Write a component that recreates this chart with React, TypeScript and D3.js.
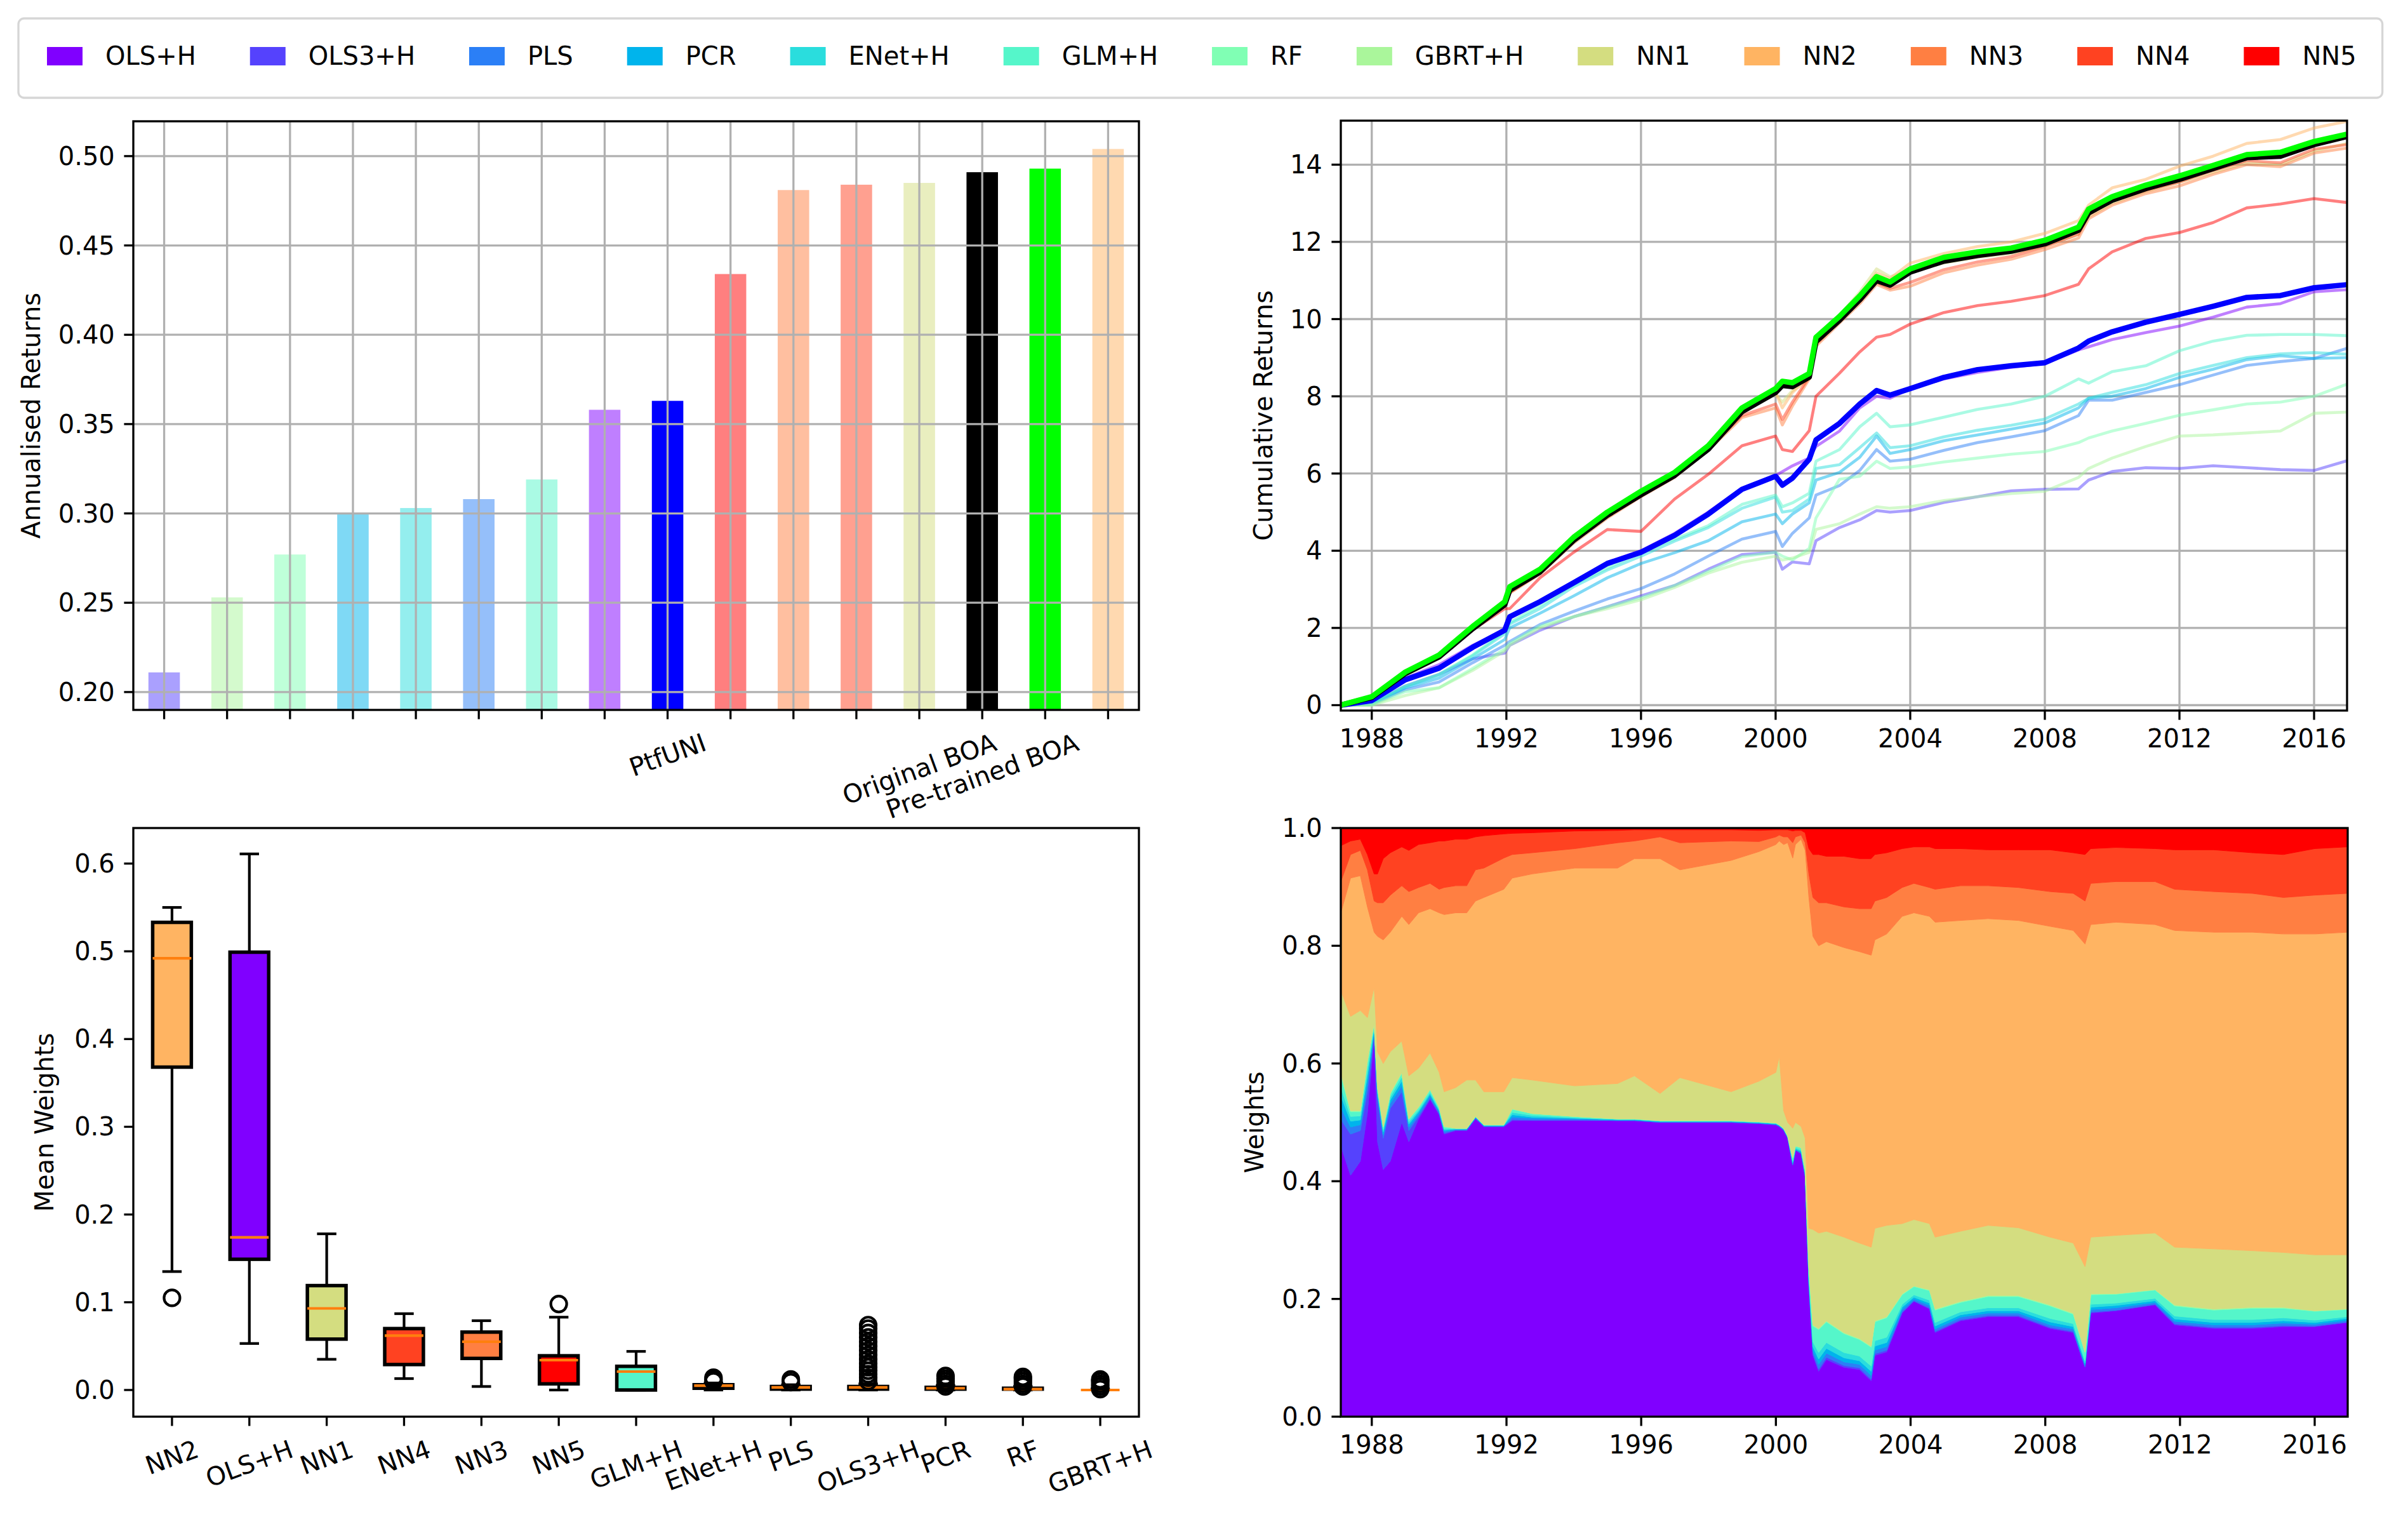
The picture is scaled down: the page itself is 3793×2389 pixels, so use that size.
import * as d3 from 'd3';

// ---------- data ----------
const MODELS = ['OLS+H', 'OLS3+H', 'PLS', 'PCR', 'ENet+H', 'GLM+H', 'RF', 'GBRT+H', 'NN1', 'NN2', 'NN3', 'NN4', 'NN5'];

// annualised returns (top left)
const BAR_NAMES = ['OLS3+H', 'GBRT+H', 'RF', 'PCR', 'ENet+H', 'PLS', 'GLM+H', 'OLS+H', 'PtfUNI', 'NN5', 'NN3', 'NN4', 'NN1', 'Original BOA', 'Pre-trained BOA', 'NN2'];
const BAR_VALUES = [0.211, 0.253, 0.277, 0.300, 0.303, 0.308, 0.319, 0.358, 0.363, 0.434, 0.481, 0.484, 0.485, 0.491, 0.493, 0.504];
const BAR_TICK_LABELS = ['', '', '', '', '', '', '', '', 'PtfUNI', '', '', '', 'Original BOA', 'Pre-trained BOA', '', ''];

// cumulative returns (top right)
const CR_YEARS = [1987.08, 1988, 1989, 1990, 1991, 1991.95, 1992.1, 1993, 1994, 1995, 1996, 1997, 1998, 1999, 2000, 2000.2, 2000.5, 2001, 2001.2, 2001.9, 2002.5, 2003, 2003.4, 2004, 2005, 2006, 2007, 2008, 2009, 2009.3, 2010, 2011, 2012, 2013, 2014, 2015, 2016, 2016.97];
const CR_PRETRAINED = [0, 0.22, 0.86, 1.30, 2.04, 2.68, 3.07, 3.52, 4.35, 5.0, 5.54, 6.03, 6.72, 7.7, 8.2, 8.39, 8.35, 8.59, 9.53, 10.07, 10.6, 11.1, 10.96, 11.3, 11.6, 11.74, 11.84, 12.04, 12.38, 12.85, 13.17, 13.47, 13.71, 13.98, 14.26, 14.32, 14.6, 14.79];
const CR_ORIGINAL = [0, 0.2, 0.82, 1.25, 1.98, 2.6, 2.98, 3.45, 4.27, 4.92, 5.45, 5.95, 6.63, 7.6, 8.1, 8.28, 8.25, 8.5, 9.42, 9.97, 10.5, 11.0, 10.88, 11.22, 11.5, 11.65, 11.76, 11.95, 12.3, 12.75, 13.08, 13.38, 13.62, 13.9, 14.18, 14.22, 14.52, 14.73];
const CR_PTFUNI = [0, 0.12, 0.66, 0.96, 1.5, 1.94, 2.29, 2.68, 3.17, 3.67, 3.96, 4.4, 4.95, 5.59, 5.93, 5.7, 5.88, 6.37, 6.87, 7.3, 7.8, 8.15, 8.03, 8.2, 8.49, 8.69, 8.79, 8.87, 9.25, 9.43, 9.67, 9.92, 10.12, 10.33, 10.56, 10.61, 10.81, 10.89];
const CR_NN2 = [0, 0.22, 0.86, 1.3, 2.02, 2.66, 3.0, 3.5, 4.3, 4.95, 5.5, 6.0, 6.7, 7.65, 8.1, 7.7, 8.1, 8.5, 9.4, 10.05, 10.6, 11.2, 11.05, 11.45, 11.7, 11.88, 12.0, 12.22, 12.55, 12.95, 13.4, 13.62, 13.96, 14.22, 14.55, 14.65, 14.95, 15.12];
const CR_NN1 = [0, 0.21, 0.84, 1.28, 2.0, 2.62, 2.95, 3.45, 4.28, 4.92, 5.48, 5.98, 6.68, 7.6, 8.05, 7.85, 8.15, 8.45, 9.45, 10.1, 10.7, 11.3, 11.1, 11.25, 11.45, 11.6, 11.7, 11.88, 12.2, 12.65, 13.0, 13.3, 13.55, 13.8, 14.05, 14.0, 14.35, 14.55];
const CR_NN3 = [0, 0.2, 0.83, 1.27, 1.98, 2.6, 2.9, 3.4, 4.2, 4.85, 5.4, 5.9, 6.6, 7.45, 7.7, 7.26, 7.75, 8.45, 9.3, 9.9, 10.4, 10.9, 10.75, 10.85, 11.2, 11.4, 11.55, 11.8, 12.1, 12.6, 12.95, 13.25, 13.45, 13.75, 14.0, 13.95, 14.3, 14.43];
const CR_NN4 = [0, 0.21, 0.84, 1.28, 1.99, 2.62, 2.92, 3.42, 4.25, 4.88, 5.42, 5.92, 6.62, 7.5, 7.8, 7.4, 7.85, 8.5, 9.35, 9.95, 10.45, 10.95, 10.8, 10.95, 11.28, 11.48, 11.62, 11.88, 12.2, 12.7, 13.05, 13.33, 13.55, 13.85, 14.1, 14.05, 14.4, 14.52];
const CR_NN5 = [0, 0.22, 0.85, 1.25, 1.95, 2.5, 2.5, 3.3, 3.96, 4.55, 4.5, 5.34, 5.98, 6.72, 6.97, 6.62, 6.57, 7.11, 8.0, 8.6, 9.15, 9.53, 9.6, 9.87, 10.17, 10.35, 10.46, 10.61, 10.9, 11.3, 11.74, 12.09, 12.24, 12.5, 12.88, 12.98, 13.12, 13.02];
const CR_OLS_H = [0, 0.12, 0.7, 1.05, 1.55, 1.95, 2.25, 2.7, 3.2, 3.7, 4.0, 4.45, 5.0, 5.62, 5.95, 6.05, 6.2, 6.4, 6.7, 7.1, 7.7, 8.0, 7.95, 8.2, 8.45, 8.62, 8.75, 8.85, 9.2, 9.28, 9.47, 9.65, 9.82, 10.05, 10.31, 10.4, 10.71, 10.76];
const CR_GLM_H = [0, 0.05, 0.5, 0.8, 1.3, 1.9, 2.14, 2.58, 3.12, 3.55, 3.96, 4.3, 4.65, 5.2, 5.44, 5.14, 5.24, 5.49, 6.32, 6.62, 7.21, 7.56, 7.21, 7.26, 7.46, 7.66, 7.8, 8.0, 8.45, 8.34, 8.64, 8.79, 9.18, 9.43, 9.58, 9.6, 9.6, 9.57];
const CR_ENET_H = [0, 0.04, 0.48, 0.78, 1.28, 1.85, 2.1, 2.5, 3.07, 3.5, 3.86, 4.25, 4.6, 5.1, 5.39, 5.0, 5.04, 5.34, 6.13, 6.23, 6.67, 7.05, 6.67, 6.72, 6.95, 7.12, 7.25, 7.41, 7.8, 7.95, 8.1, 8.3, 8.59, 8.8, 9.0, 9.1, 9.13, 9.09];
const CR_PCR = [0, 0.03, 0.45, 0.7, 1.2, 1.7, 2.0, 2.38, 2.83, 3.3, 3.67, 3.95, 4.26, 4.75, 4.95, 4.7, 4.95, 5.24, 5.83, 6.03, 6.42, 6.97, 6.52, 6.62, 6.85, 7.0, 7.15, 7.31, 7.7, 7.95, 8.0, 8.2, 8.49, 8.7, 8.95, 9.05, 8.98, 9.0];
const CR_PLS = [0, 0.02, 0.4, 0.6, 1.1, 1.55, 1.65, 2.09, 2.43, 2.75, 3.02, 3.4, 3.86, 4.3, 4.5, 4.11, 4.45, 4.85, 5.44, 5.69, 6.08, 6.62, 6.32, 6.37, 6.6, 6.8, 6.95, 7.11, 7.5, 7.9, 7.9, 8.1, 8.3, 8.55, 8.8, 8.9, 8.98, 9.24];
const CR_RF = [0, 0.0, 0.35, 0.45, 0.95, 1.45, 1.6, 2.05, 2.29, 2.55, 2.78, 3.1, 3.47, 3.85, 3.96, 3.86, 3.76, 4.06, 4.85, 5.85, 5.93, 6.32, 6.13, 6.17, 6.3, 6.4, 6.5, 6.57, 6.8, 6.92, 7.1, 7.3, 7.51, 7.65, 7.8, 7.85, 8.0, 8.31];
const CR_GBRT_H = [0, 0.0, 0.25, 0.45, 0.9, 1.4, 1.55, 2.0, 2.29, 2.5, 2.73, 3.05, 3.42, 3.7, 3.86, 3.76, 3.81, 3.96, 4.55, 4.7, 4.95, 5.14, 5.1, 5.14, 5.3, 5.4, 5.48, 5.54, 5.9, 6.13, 6.4, 6.7, 6.97, 7.0, 7.05, 7.1, 7.56, 7.59];
const CR_OLS3_H = [0, 0.05, 0.5, 0.8, 1.2, 1.35, 1.55, 1.94, 2.29, 2.55, 2.83, 3.1, 3.52, 3.9, 3.96, 3.52, 3.71, 3.66, 4.26, 4.6, 4.8, 5.04, 5.0, 5.04, 5.25, 5.4, 5.55, 5.59, 5.6, 5.83, 6.05, 6.15, 6.13, 6.2, 6.15, 6.1, 6.08, 6.33];

// mean weights box plot (bottom left)
const BOX_LABELS = ['NN2', 'OLS+H', 'NN1', 'NN4', 'NN3', 'NN5', 'GLM+H', 'ENet+H', 'PLS', 'OLS3+H', 'PCR', 'RF', 'GBRT+H'];
const BOX_WLO = [0.135, 0.053, 0.035, 0.013, 0.004, 0.0, 0.0, 0.0, 0.0, 0.0, 0.0, 0.0, 0.0];
const BOX_Q1 = [0.368, 0.149, 0.058, 0.029, 0.036, 0.007, 0.0, 0.002, 0.001, 0.001, 0.001, 0.001, 0.0];
const BOX_MED = [0.492, 0.174, 0.093, 0.062, 0.055, 0.034, 0.021, 0.005, 0.003, 0.003, 0.002, 0.001, 0.0];
const BOX_Q3 = [0.533, 0.499, 0.119, 0.070, 0.066, 0.039, 0.027, 0.006, 0.004, 0.004, 0.003, 0.002, 0.0];
const BOX_WHI = [0.550, 0.611, 0.178, 0.087, 0.079, 0.083, 0.044, 0.008, 0.006, 0.007, 0.005, 0.004, 0.001];
const BOX_OUTLIERS = [
  [0.105], [], [], [], [], [0.098], [],
  [0.010, 0.012, 0.014],
  [0.009, 0.012],
  [0.010, 0.014, 0.018, 0.022, 0.026, 0.030, 0.035, 0.040, 0.045, 0.050, 0.055, 0.060, 0.065, 0.070, 0.074],
  [0.004, 0.007, 0.010, 0.013, 0.016],
  [0.004, 0.007, 0.010, 0.013, 0.015],
  [0.001, 0.004, 0.007, 0.010, 0.012],
];

// weights over time (bottom right)
const W_YEARS = [1987.08, 1987.37, 1987.66, 1987.87, 1988.07, 1988.17, 1988.34, 1988.55, 1988.89, 1989.1, 1989.39, 1989.73, 1990.0, 1990.15, 1990.49, 1990.82, 1991.08, 1991.33, 1991.92, 1992.17, 1992.76, 1994.03, 1995.3, 1995.8, 1996.56, 1997.15, 1998.67, 1999.5, 2000.0, 2000.1, 2000.23, 2000.35, 2000.5, 2000.58, 2000.75, 2000.87, 2000.98, 2001.1, 2001.27, 2001.5, 2002.02, 2002.48, 2002.83, 2002.94, 2003.29, 2003.75, 2004.1, 2004.56, 2004.73, 2005.48, 2006.3, 2007.2, 2008.14, 2008.83, 2009.18, 2009.35, 2010.1, 2011.26, 2011.84, 2013.0, 2014.15, 2015.07, 2016.0, 2016.97];
const W_OLS_H = [.46, .41, .434, .516, .645, .467, .42, .434, .50, .467, .506, .539, .513, .48, .486, .486, .506, .493, .493, .503, .503, .503, .503, .503, .50, .50, .50, .498, .496, .493, .486, .473, .427, .453, .447, .407, .222, .104, .077, .097, .084, .08, .061, .104, .11, .176, .196, .183, .143, .163, .17, .17, .15, .143, .084, .176, .18, .19, .156, .15, .15, .153, .153, .16];
const W_OLS3_H = [.045, .07, .052, .036, .005, .073, .053, .09, .052, .019, .004, .002, .002, .002, .001, .001, .001, 0, 0, .002, .001, .001, 0, 0, 0, 0, 0, 0, 0, 0, .001, .001, .001, 0, 0, .001, .002, .003, .004, .004, .003, .003, .003, .003, .003, .002, .001, .002, .002, .002, .002, .002, .002, .002, .001, .002, .001, .001, .002, .002, .002, .002, .001, .001];
const W_PLS = [.02, .012, .01, .015, .005, .006, .006, .008, .01, .006, .004, .004, .003, .003, .001, .001, .001, .001, .001, .004, .003, .002, .001, .001, .001, .001, .001, .001, .001, .001, .001, .001, .002, .001, .002, .002, .004, .006, .008, .007, .006, .006, .006, .006, .006, .004, .003, .004, .004, .004, .004, .004, .004, .004, .003, .004, .004, .003, .004, .004, .004, .004, .003, .003];
const W_PCR = [.02, .01, .008, .012, .005, .005, .005, .006, .008, .005, .004, .003, .002, .002, .001, .001, .001, .001, .001, .004, .002, .001, .001, .001, .001, .001, .001, .001, .001, .001, .001, .001, .002, .001, .002, .002, .004, .006, .009, .008, .007, .006, .007, .007, .007, .004, .003, .004, .005, .004, .004, .004, .005, .004, .003, .004, .004, .003, .004, .004, .004, .004, .003, .003];
const W_ENET_H = [.015, .008, .007, .01, .004, .004, .004, .005, .007, .004, .003, .003, .002, .002, 0, 0, 0, 0, 0, .004, .003, .001, 0, 0, 0, 0, 0, 0, 0, 0, 0, 0, .003, .002, .002, .003, .005, .008, .011, .01, .009, .008, .009, .009, .009, .005, .004, .005, .006, .005, .005, .005, .006, .005, .004, .005, .004, .004, .005, .005, .005, .005, .004, .003];
const W_GLM_H = [.02, .008, .007, .013, .005, .004, .004, .005, .006, .004, .004, .004, .003, .003, .001, .001, .001, .001, .001, .005, .003, .002, .001, .001, .001, .001, .001, .001, .001, .001, .001, .001, .005, .003, .004, .005, .016, .027, .039, .035, .032, .028, .032, .032, .033, .016, .014, .016, .021, .016, .019, .019, .021, .016, .014, .016, .015, .014, .017, .016, .019, .016, .015, .012];
const W_RF = [.003, .001, .001, .002, .001, .001, .001, .001, .001, .001, .001, .001, .001, .001, 0, 0, 0, 0, 0, .001, 0, 0, 0, 0, 0, 0, 0, 0, 0, 0, 0, 0, 0, 0, 0, 0, .001, .001, .001, .001, .001, .001, .001, .001, .001, .001, .001, .001, .001, .001, .001, .001, .001, .001, .001, .001, .001, .001, .001, .001, .001, .001, .001, .001];
const W_GBRT_H = [.002, .001, .001, .001, 0, 0, 0, .001, .001, 0, 0, 0, 0, 0, 0, 0, 0, 0, 0, 0, 0, 0, 0, 0, 0, 0, 0, 0, 0, 0, 0, 0, 0, 0, 0, 0, .001, .001, .001, .001, .001, .001, .001, .001, .001, .001, 0, .001, .001, .001, .001, .001, .001, .001, 0, .001, 0, 0, .001, .001, .001, .001, 0, 0];
const W_NN1 = [.139, .16, .17, .073, .06, .06, .107, .07, .053, .073, .066, .062, .059, .059, .069, .082, .062, .056, .056, .053, .057, .052, .06, .073, .046, .073, .049, .069, .086, .116, .03, .023, .05, .04, .036, .053, .065, .162, .162, .152, .162, .162, .168, .157, .155, .119, .113, .112, .122, .119, .119, .115, .115, .119, .145, .096, .099, .096, .098, .102, .096, .093, .095, .092];
const W_NN2 = [.132, .235, .229, .188, .093, .196, .21, .203, .212, .257, .264, .245, .271, .301, .297, .284, .304, .33, .344, .339, .35, .37, .366, .369, .399, .353, .393, .39, .387, .366, .452, .475, .459, .472, .488, .489, .562, .498, .488, .492, .492, .495, .496, .49, .495, .522, .521, .522, .535, .528, .521, .522, .528, .531, .548, .531, .532, .524, .538, .538, .541, .541, .545, .548];
const W_NN3 = [.053, .04, .043, .063, .053, .057, .063, .063, .052, .056, .043, .043, .04, .046, .046, .046, .053, .05, .053, .04, .036, .033, .043, .03, .037, .046, .033, .017, .013, .01, .013, .01, .026, .013, .007, .013, .04, .066, .073, .066, .069, .073, .079, .066, .062, .049, .05, .049, .056, .059, .056, .056, .059, .063, .073, .07, .069, .073, .07, .069, .066, .062, .066, .066];
const W_NN4 = [.061, .023, .019, .026, .046, .049, .075, .072, .066, .07, .073, .069, .082, .079, .079, .079, .056, .055, .041, .036, .034, .03, .021, .019, .012, .022, .019, .019, .012, .009, .012, .012, .02, .011, .008, .017, .043, .073, .082, .079, .086, .085, .085, .079, .076, .066, .062, .069, .069, .063, .061, .064, .071, .069, .079, .059, .058, .056, .067, .071, .069, .073, .079, .079];
const W_NN5 = [.03, .022, .019, .045, .078, .078, .052, .042, .032, .038, .028, .025, .022, .022, .019, .019, .015, .013, .01, .009, .008, .005, .004, .003, .003, .003, .003, .004, .003, .003, .003, .003, .005, .004, .004, .008, .035, .045, .045, .048, .048, .052, .052, .045, .042, .035, .032, .032, .035, .035, .037, .037, .037, .042, .045, .035, .033, .035, .037, .037, .042, .045, .035, .032];

const Y_TICKS_TL = [0.20, 0.25, 0.30, 0.35, 0.40, 0.45, 0.50];
const Y_TICKS_TR = [0, 2, 4, 6, 8, 10, 12, 14];
const Y_TICKS_BL = [0.0, 0.1, 0.2, 0.3, 0.4, 0.5, 0.6];
const Y_TICKS_BR = [0.0, 0.2, 0.4, 0.6, 0.8, 1.0];
const YEAR_TICKS = [1988, 1992, 1996, 2000, 2004, 2008, 2012, 2016];

// ---------- styling ----------
const FONT = 'DejaVu Sans';
const FS = 40;
const LW = 3.3;
const TICK = 14.6;
const PAD = 14.6;
const GRID = '#b0b0b0';

// matplotlib "rainbow" colormap
const rainbow = (x: number) =>
  d3.rgb(255 * Math.min(1, Math.abs(2 * x - 0.5)), 255 * Math.sin(Math.PI * x), 255 * Math.cos((Math.PI * x) / 2)).formatHex();
const MODEL_COLOR: Record<string, string> = Object.fromEntries(MODELS.map((m, i) => [m, rainbow(i / (MODELS.length - 1))]));
const STRATEGY_COLOR: Record<string, string> = { 'PtfUNI': '#0000ff', 'Original BOA': '#000000', 'Pre-trained BOA': '#00ff00' };

const CR_SERIES: Record<string, number[]> = {
  'OLS+H': CR_OLS_H, 'OLS3+H': CR_OLS3_H, 'PLS': CR_PLS, 'PCR': CR_PCR, 'ENet+H': CR_ENET_H, 'GLM+H': CR_GLM_H,
  'RF': CR_RF, 'GBRT+H': CR_GBRT_H, 'NN1': CR_NN1, 'NN2': CR_NN2, 'NN3': CR_NN3, 'NN4': CR_NN4, 'NN5': CR_NN5,
};
const W_SERIES: Record<string, number[]> = {
  'OLS+H': W_OLS_H, 'OLS3+H': W_OLS3_H, 'PLS': W_PLS, 'PCR': W_PCR, 'ENet+H': W_ENET_H, 'GLM+H': W_GLM_H,
  'RF': W_RF, 'GBRT+H': W_GBRT_H, 'NN1': W_NN1, 'NN2': W_NN2, 'NN3': W_NN3, 'NN4': W_NN4, 'NN5': W_NN5,
};

const ctx = document.createElement('canvas').getContext('2d')!;
ctx.font = `${FS}px "${FONT}"`;
const textW = (s: string) => ctx.measureText(s).width;

type Box = { x0: number; x1: number; y0: number; y1: number };
const TL: Box = { x0: 210, x1: 1794, y0: 191, y1: 1118 };
const TR: Box = { x0: 2112, x1: 3697, y0: 190, y1: 1119 };
const BL: Box = { x0: 210, x1: 1794, y0: 1304, y1: 2231 };
const BR: Box = { x0: 2112, x1: 3698, y0: 1304, y1: 2231 };

function Frame({ p }: { p: Box }) {
  return <rect x={p.x0} y={p.y0} width={p.x1 - p.x0} height={p.y1 - p.y0} fill="none" stroke="#000" strokeWidth={LW} />;
}

function YAxis({ p, y, ticks, fmt }: { p: Box; y: (v: number) => number; ticks: number[]; fmt: (v: number) => string }) {
  return (
    <g>
      {ticks.map((t) => (
        <g key={t}>
          <line x1={p.x0 - TICK} x2={p.x0} y1={y(t)} y2={y(t)} stroke="#000" strokeWidth={LW} />
          <text x={p.x0 - TICK - PAD} y={y(t)} textAnchor="end" dominantBaseline="central" fontSize={FS}>{fmt(t)}</text>
        </g>
      ))}
    </g>
  );
}

function XTickMarks({ p, x, ticks }: { p: Box; x: (v: number) => number; ticks: number[] }) {
  return (
    <g>
      {ticks.map((t) => (
        <line key={t} x1={x(t)} x2={x(t)} y1={p.y1} y2={p.y1 + TICK} stroke="#000" strokeWidth={LW} />
      ))}
    </g>
  );
}

function YearLabels({ p, x }: { p: Box; x: (v: number) => number }) {
  return (
    <g>
      {YEAR_TICKS.map((t) => (
        <text key={t} x={x(t)} y={p.y1 + 58} textAnchor="middle" fontSize={FS}>{t}</text>
      ))}
    </g>
  );
}

function RotLabels({ p, x, positions, labels }: { p: Box; x: (v: number) => number; positions: number[]; labels: string[] }) {
  const th = (20 * Math.PI) / 180;
  const hh = FS * 1.08;
  return (
    <g>
      {positions.map((pos, i) => {
        const s = labels[i];
        if (!s) return null;
        const w = textW(s);
        const cx = x(pos);
        const cy = p.y1 + TICK + PAD + (w * Math.sin(th) + hh * Math.cos(th)) / 2;
        return (
          <text key={i} x={cx} y={cy} transform={`rotate(-20 ${cx} ${cy})`} textAnchor="middle" dominantBaseline="central" fontSize={FS}>{s}</text>
        );
      })}
    </g>
  );
}

function YLabel({ x, y, text }: { x: number; y: number; text: string }) {
  return <text x={x} y={y} transform={`rotate(-90 ${x} ${y})`} textAnchor="middle" fontSize={FS}>{text}</text>;
}

function Legend() {
  let lx = 74;
  const items = MODELS.map((m) => {
    const it = { m, x: lx };
    lx += 92 + textW(m) + 85;
    return it;
  });
  const right = lx - 85 + 41;
  return (
    <g>
      <rect x={29} y={29} width={right - 29} height={125} rx={9} fill="#fff" stroke="#d6d6d6" strokeWidth={LW} />
      {items.map((it) => (
        <g key={it.m}>
          <rect x={it.x} y={74} width={56} height={29} fill={MODEL_COLOR[it.m]} />
          <text x={it.x + 92} y={102} fontSize={FS}>{it.m}</text>
        </g>
      ))}
    </g>
  );
}

function BarPanel() {
  const idx = BAR_VALUES.map((_, i) => i);
  const x = d3.scaleLinear().domain([-0.49, BAR_VALUES.length - 0.51]).range([TL.x0, TL.x1]);
  const y = d3.scaleLinear().domain([0.19, 0.5195]).range([TL.y1, TL.y0]);
  const bw = x(0.5) - x(0);
  return (
    <g>
      <defs>
        <clipPath id="clipTL"><rect x={TL.x0} y={TL.y0} width={TL.x1 - TL.x0} height={TL.y1 - TL.y0} /></clipPath>
      </defs>
      <g clipPath="url(#clipTL)">
        {idx.map((i) => {
          const n = BAR_NAMES[i];
          const solid = n in STRATEGY_COLOR;
          return (
            <rect key={n} x={x(i) - bw / 2} y={y(BAR_VALUES[i])} width={bw} height={TL.y1 - y(BAR_VALUES[i])}
              fill={solid ? STRATEGY_COLOR[n] : MODEL_COLOR[n]} fillOpacity={solid ? 1 : 0.5} />
          );
        })}
        {idx.map((i) => <line key={'gx' + i} x1={x(i)} x2={x(i)} y1={TL.y0} y2={TL.y1} stroke={GRID} strokeWidth={LW} />)}
        {Y_TICKS_TL.map((t) => <line key={'gy' + t} x1={TL.x0} x2={TL.x1} y1={y(t)} y2={y(t)} stroke={GRID} strokeWidth={LW} />)}
      </g>
      <Frame p={TL} />
      <YAxis p={TL} y={y} ticks={Y_TICKS_TL} fmt={d3.format('.2f')} />
      <XTickMarks p={TL} x={x} ticks={idx} />
      <RotLabels p={TL} x={x} positions={idx} labels={BAR_TICK_LABELS} />
      <YLabel x={63} y={(TL.y0 + TL.y1) / 2} text="Annualised Returns" />
    </g>
  );
}

function CumPanel() {
  const x = d3.scaleLinear().domain([1987.08, 2016.98]).range([TR.x0, TR.x1]);
  const y = d3.scaleLinear().domain([-0.14, 15.14]).range([TR.y1, TR.y0]);
  const line = (vals: number[]) =>
    d3.line<number>().x((_, i) => x(CR_YEARS[i])).y((v) => y(v))(vals) ?? '';
  return (
    <g>
      <defs>
        <clipPath id="clipTR"><rect x={TR.x0} y={TR.y0} width={TR.x1 - TR.x0} height={TR.y1 - TR.y0} /></clipPath>
      </defs>
      {YEAR_TICKS.map((t) => <line key={'gx' + t} x1={x(t)} x2={x(t)} y1={TR.y0} y2={TR.y1} stroke={GRID} strokeWidth={LW} />)}
      {Y_TICKS_TR.map((t) => <line key={'gy' + t} x1={TR.x0} x2={TR.x1} y1={y(t)} y2={y(t)} stroke={GRID} strokeWidth={LW} />)}
      <g clipPath="url(#clipTR)" fill="none" strokeLinejoin="round">
        {MODELS.map((m) => (
          <path key={m} d={line(CR_SERIES[m])} stroke={MODEL_COLOR[m]} strokeOpacity={0.5} strokeWidth={4.6} />
        ))}
        <path d={line(CR_PTFUNI)} stroke={STRATEGY_COLOR['PtfUNI']} strokeWidth={8.5} />
        <path d={line(CR_ORIGINAL)} stroke={STRATEGY_COLOR['Original BOA']} strokeWidth={8.5} />
        <path d={line(CR_PRETRAINED)} stroke={STRATEGY_COLOR['Pre-trained BOA']} strokeWidth={8.5} />
      </g>
      <Frame p={TR} />
      <YAxis p={TR} y={y} ticks={Y_TICKS_TR} fmt={d3.format('d')} />
      <XTickMarks p={TR} x={x} ticks={YEAR_TICKS} />
      <YearLabels p={TR} x={x} />
      <YLabel x={2004} y={(TR.y0 + TR.y1) / 2} text="Cumulative Returns" />
    </g>
  );
}

function BoxPanel() {
  const pos = BOX_LABELS.map((_, i) => i + 1);
  const x = d3.scaleLinear().domain([0.5, BOX_LABELS.length + 0.5]).range([BL.x0, BL.x1]);
  const y = d3.scaleLinear().domain([-0.0304, 0.6405]).range([BL.y1, BL.y0]);
  const hw = (x(0.25) - x(0));
  const cw = hw / 2;
  return (
    <g>
      {BOX_LABELS.map((lab, i) => {
        const cx = x(pos[i]);
        return (
          <g key={lab}>
            <line x1={cx} x2={cx} y1={y(BOX_WLO[i])} y2={y(BOX_Q1[i])} stroke="#000" strokeWidth={4.2} />
            <line x1={cx} x2={cx} y1={y(BOX_Q3[i])} y2={y(BOX_WHI[i])} stroke="#000" strokeWidth={4.2} />
            <line x1={cx - cw} x2={cx + cw} y1={y(BOX_WLO[i])} y2={y(BOX_WLO[i])} stroke="#000" strokeWidth={4.2} />
            <line x1={cx - cw} x2={cx + cw} y1={y(BOX_WHI[i])} y2={y(BOX_WHI[i])} stroke="#000" strokeWidth={4.2} />
            <rect x={cx - hw} y={y(BOX_Q3[i])} width={2 * hw} height={Math.max(0, y(BOX_Q1[i]) - y(BOX_Q3[i]))}
              fill={MODEL_COLOR[lab]} stroke="#000" strokeWidth={5.5} />
            <line x1={cx - hw} x2={cx + hw} y1={y(BOX_MED[i])} y2={y(BOX_MED[i])} stroke="#ff7f0e" strokeWidth={4.2} />
            {BOX_OUTLIERS[i].map((o, k) => (
              <circle key={k} cx={cx} cy={y(o)} r={12.5} fill="none" stroke="#000" strokeWidth={4.2} />
            ))}
          </g>
        );
      })}
      <Frame p={BL} />
      <YAxis p={BL} y={y} ticks={Y_TICKS_BL} fmt={d3.format('.1f')} />
      <XTickMarks p={BL} x={x} ticks={pos} />
      <RotLabels p={BL} x={x} positions={pos} labels={BOX_LABELS} />
      <YLabel x={84} y={(BL.y0 + BL.y1) / 2} text="Mean Weights" />
    </g>
  );
}

function WeightPanel() {
  const x = d3.scaleLinear().domain([1987.08, 2016.98]).range([BR.x0, BR.x1]);
  const y = d3.scaleLinear().domain([0, 1]).range([BR.y1, BR.y0]);
  const rows = W_YEARS.map((t, i) => {
    const r: Record<string, number> = { t };
    MODELS.forEach((m) => { r[m] = W_SERIES[m][i]; });
    return r;
  });
  const stacked = d3.stack<Record<string, number>>().keys(MODELS).offset(d3.stackOffsetExpand)(rows);
  const area = d3.area<d3.SeriesPoint<Record<string, number>>>()
    .x((d) => x(d.data.t)).y0((d) => y(d[0])).y1((d) => y(d[1]));
  return (
    <g>
      <defs>
        <clipPath id="clipBR"><rect x={BR.x0} y={BR.y0} width={BR.x1 - BR.x0} height={BR.y1 - BR.y0} /></clipPath>
      </defs>
      <g clipPath="url(#clipBR)">
        {stacked.map((s) => (
          <path key={s.key} d={area(s) ?? ''} fill={MODEL_COLOR[s.key]} stroke={MODEL_COLOR[s.key]} strokeWidth={1} />
        ))}
      </g>
      <Frame p={BR} />
      <YAxis p={BR} y={y} ticks={Y_TICKS_BR} fmt={d3.format('.1f')} />
      <XTickMarks p={BR} x={x} ticks={YEAR_TICKS} />
      <YearLabels p={BR} x={x} />
      <YLabel x={1990} y={(BR.y0 + BR.y1) / 2} text="Weights" />
    </g>
  );
}

export default function App() {
  return (
    <svg width={3793} height={2389} viewBox="0 0 3793 2389"
      style={{ position: 'absolute', left: 0, top: 0, background: '#fff' }}
      fontFamily={FONT} fill="#000">
      <rect x={0} y={0} width={3793} height={2389} fill="#fff" />
      <BarPanel />
      <CumPanel />
      <BoxPanel />
      <WeightPanel />
      <Legend />
    </svg>
  );
}
